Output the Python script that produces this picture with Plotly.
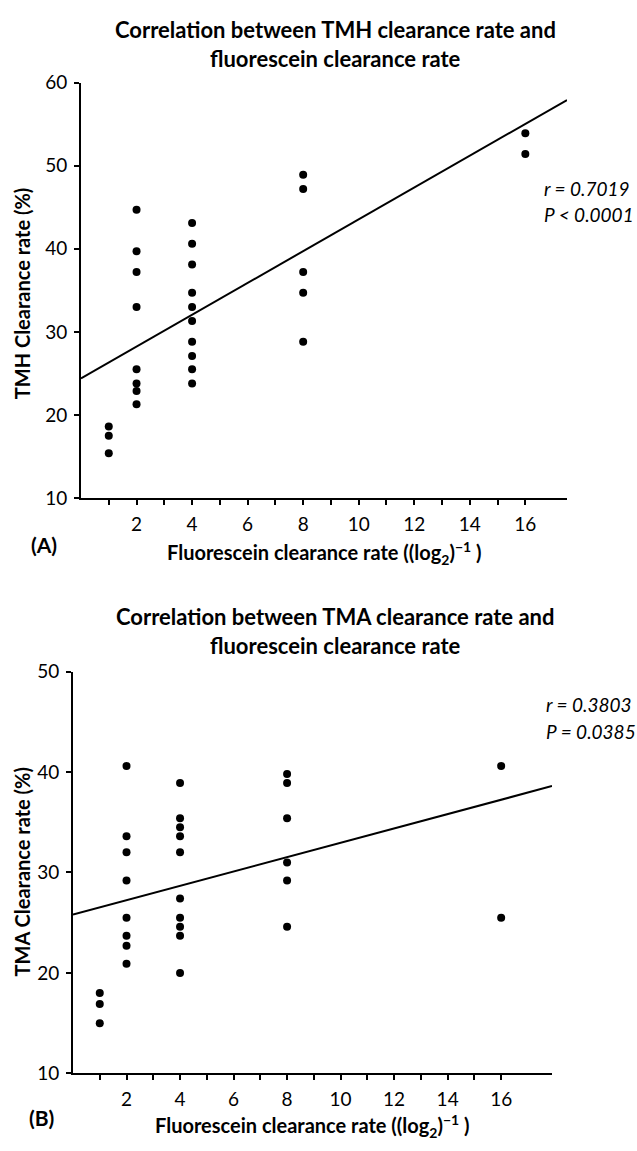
import plotly.graph_objects as go

# ---------------- data ----------------
tmh_fluor = [1, 1, 1,
             2, 2, 2, 2, 2, 2, 2, 2,
             4, 4, 4, 4, 4, 4, 4, 4, 4, 4,
             8, 8, 8, 8, 8,
             16, 16]
tmh_rate = [18.6, 17.5, 15.4,
            44.7, 39.7, 37.2, 33.0, 25.5, 23.8, 22.9, 21.3,
            43.1, 40.6, 38.1, 34.7, 33.0, 31.3, 28.8, 27.1, 25.5, 23.8,
            48.9, 47.2, 37.2, 34.7, 28.8,
            53.9, 51.4]
tmh_fit_x = [0, 17.5]
tmh_fit_y = [24.4, 57.9]

tma_fluor = [1, 1, 1,
             2, 2, 2, 2, 2, 2, 2, 2,
             4, 4, 4, 4, 4, 4, 4, 4, 4, 4,
             8, 8, 8, 8, 8, 8,
             16, 16]
tma_rate = [18.0, 16.9, 15.0,
            40.6, 33.6, 32.0, 29.2, 25.5, 23.7, 22.7, 20.9,
            38.9, 35.4, 34.5, 33.6, 32.0, 27.4, 25.5, 24.6, 23.7, 20.0,
            39.8, 38.9, 35.4, 31.0, 29.2, 24.6,
            40.6, 25.5]
tma_fit_x = [0, 17.9]
tma_fit_y = [25.8, 38.6]

x_major_ticks = [2, 4, 6, 8, 10, 12, 14, 16]
x_minor_ticks = [1, 3, 5, 7, 9, 11, 13, 15]
top_y_ticks = [10, 20, 30, 40, 50, 60]
bot_y_ticks = [10, 20, 30, 40, 50]

W, H = 637, 1151
FONT = "Lato"


def px(p):
    return p / W


def py(p):
    return 1 - p / H


fig = go.Figure()

# top panel
fig.add_trace(go.Scatter(x=tmh_fluor, y=tmh_rate, mode="markers",
                         marker=dict(color="black", size=8),
                         xaxis="x", yaxis="y", showlegend=False))
fig.add_trace(go.Scatter(x=tmh_fit_x, y=tmh_fit_y, mode="lines",
                         line=dict(color="black", width=2),
                         xaxis="x", yaxis="y", showlegend=False))
# bottom panel
fig.add_trace(go.Scatter(x=tma_fluor, y=tma_rate, mode="markers",
                         marker=dict(color="black", size=8),
                         xaxis="x2", yaxis="y2", showlegend=False))
fig.add_trace(go.Scatter(x=tma_fit_x, y=tma_fit_y, mode="lines",
                         line=dict(color="black", width=2),
                         xaxis="x2", yaxis="y2", showlegend=False))

xcommon = dict(showline=True, linecolor="black", linewidth=2,
               ticks="outside", ticklen=5, tickwidth=1.5, tickcolor="black",
               tickmode="array", tickvals=x_major_ticks,
               minor=dict(tickmode="array", tickvals=x_minor_ticks,
                          ticks="outside", ticklen=5, tickwidth=1.5,
                          tickcolor="black", showgrid=False),
               showgrid=False, zeroline=False,
               tickfont=dict(family=FONT, size=19, color="black"),
               ticklabelstandoff=3)
ycommon = dict(showline=True, linecolor="black", linewidth=2,
               ticks="outside", ticklen=5, tickwidth=1.5, tickcolor="black",
               showgrid=False, zeroline=False,
               tickfont=dict(family=FONT, size=19, color="black"),
               ticklabelstandoff=3)

fig.update_layout(
    width=W, height=H,
    margin=dict(l=0, r=0, t=0, b=0),
    paper_bgcolor="white", plot_bgcolor="white",
    xaxis=dict(xcommon, domain=[px(81), px(567)], range=[0, 17.5], anchor="y"),
    yaxis=dict(ycommon, domain=[py(496), py(72)], range=[10, 60],
               tickvals=top_y_ticks, anchor="x"),
    xaxis2=dict(xcommon, domain=[px(73), px(552)], range=[0, 17.9], anchor="y2"),
    yaxis2=dict(ycommon, domain=[py(1083), py(673)], range=[10, 50],
                tickvals=bot_y_ticks, anchor="x2"),
)

ann = []


def add_text(text, x, y, size, xanchor="center", angle=0):
    ann.append(dict(text=text, x=px(x), y=py(y), xref="paper", yref="paper",
                    xanchor=xanchor, yanchor="middle", showarrow=False,
                    textangle=angle,
                    font=dict(family=FONT, size=size, color="black")))


# titles
add_text("<b>Correlation between TMH clearance rate and</b>", 335, 18, 22)
add_text("<b>fluorescein clearance rate</b>", 335, 47, 22)
add_text("<b>Correlation between TMA clearance rate and</b>", 335, 617, 22)
add_text("<b>fluorescein clearance rate</b>", 335, 646, 22)

# axis titles
xt = "<b>Fluorescein clearance rate ((log<sub>2</sub>)<sup>\u22121</sup> )</b>"
add_text(xt, 324, 552, 20)
add_text(xt, 312, 1137, 20)
add_text("<b>TMH Clearance rate (%)</b>", 22, 287, 20, angle=-90)
add_text("<b>TMA Clearance rate (%)</b>", 22, 878, 20, angle=-90)

# panel labels
add_text("<b>(A)</b>", 29, 543, 21, xanchor="left")
add_text("<b>(B)</b>", 27, 1128, 21, xanchor="left")

# stats
add_text("<i>r = 0.7019</i>", 542, 180, 19, xanchor="left")
add_text("<i>P < 0.0001</i>", 542, 207, 19, xanchor="left")
add_text("<i>r = 0.3803</i>", 544, 707, 19, xanchor="left")
add_text("<i>P = 0.0385</i>", 544, 734, 19, xanchor="left")

fig.update_layout(annotations=ann)

fig.write_html("out.html",
               config={"displayModeBar": False},
               post_script="document.body.style.margin='0';")
